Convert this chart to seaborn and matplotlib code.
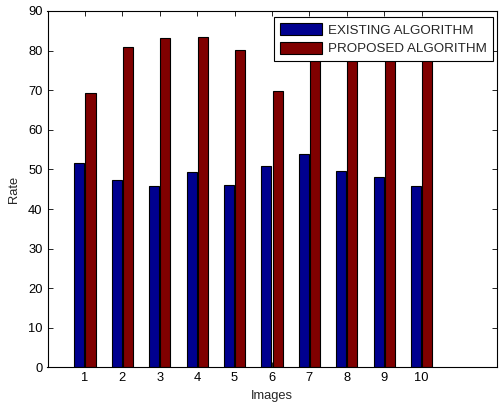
import pandas as pd
import numpy as np
import matplotlib.pyplot as plt
import seaborn as sns

images = ['1', '2', '3', '4', '5', '6', '7', '8', '9', '10']
existing = [51.6, 47.3, 45.8, 49.4, 46.0, 50.8, 54.0, 49.7, 48.2, 45.8]
# bars 7-10 of the proposed series are hidden behind the legend, tops estimated
proposed = [69.4, 80.8, 83.1, 83.5, 80.2, 69.7, 81.0, 82.0, 80.0, 81.0]
series = ['EXISTING ALGORITHM', 'PROPOSED ALGORITHM']
colors = ['#00008f', '#800000']

df = pd.DataFrame({
    'Images': images * 2,
    'Rate': existing + proposed,
    'method': [series[0]] * len(images) + [series[1]] * len(images),
})

sns.set_style('ticks')
plt.rcParams['font.family'] = ['Liberation Sans', 'DejaVu Sans']

fig = plt.figure(figsize=(5, 4.05), dpi=100)
ax = fig.add_axes([0.095, 0.0926, 0.898, 0.8803])

sns.barplot(data=df, x='Images', y='Rate', hue='method', order=images,
            hue_order=series, palette=colors, width=0.6, gap=0.1,
            edgecolor='black', linewidth=0.8, saturation=1, ax=ax)

ax.set_xlim(-1, 11)
ax.set_ylim(0, 90)
ax.set_yticks(np.arange(0, 91, 10))
ax.set_xlabel('Images', fontsize=9.3)
ax.set_ylabel('Rate', fontsize=9.3, labelpad=6)
ax.tick_params(direction='in', top=True, right=True, labelsize=9.3,
               length=3.5, width=0.6, colors='black')
for s in ax.spines.values():
    s.set_visible(True)
    s.set_linewidth(0.8)
    s.set_color('black')

leg = ax.legend(loc='upper right', bbox_to_anchor=(0.993, 0.983), fontsize=9.6,
                fancybox=False, framealpha=1, edgecolor='black',
                handlelength=3.15, handleheight=1.0, borderpad=0.45,
                labelspacing=0.4, handletextpad=0.45, borderaxespad=0)
leg.get_frame().set_linewidth(0.8)

fig.savefig('out.png', dpi=100)
